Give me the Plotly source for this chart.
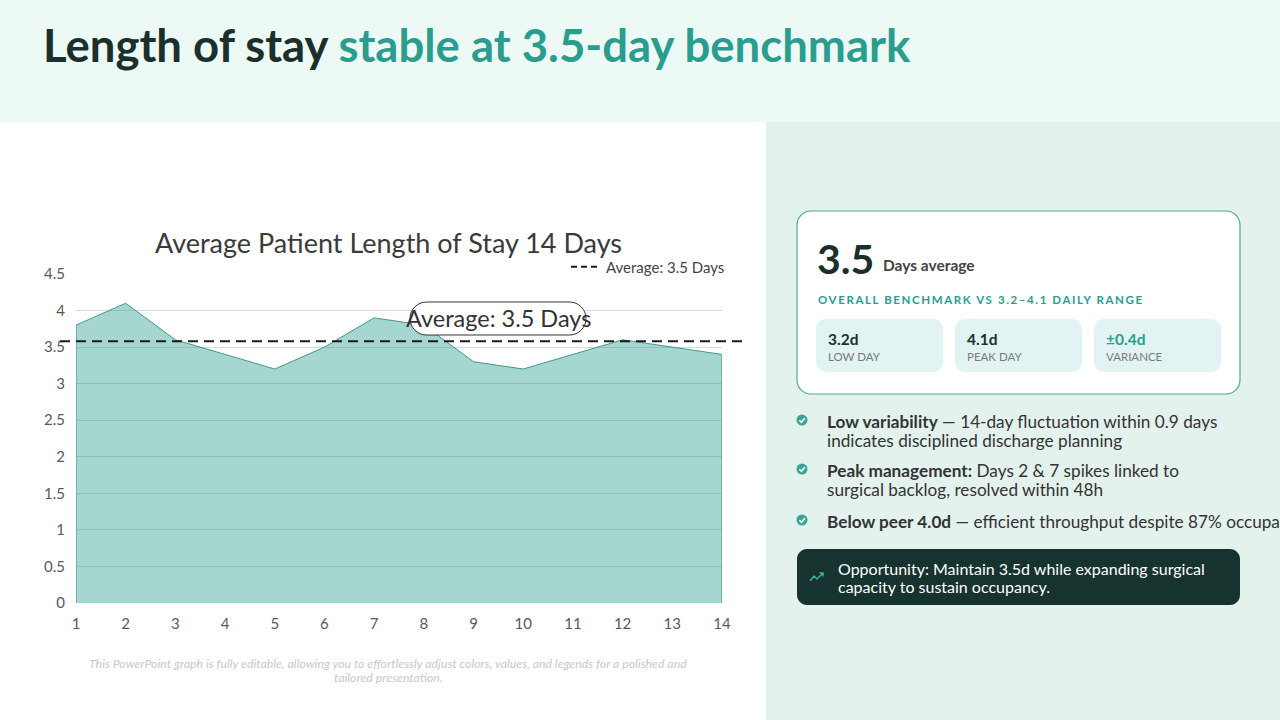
import plotly.graph_objects as go

# ---------------- data ----------------
days = list(range(1, 15))
los_values = [3.8, 4.1, 3.6, 3.4, 3.2, 3.5, 3.9, 3.8, 3.3, 3.2, 3.4, 3.6, 3.5, 3.4]
avg_line_value = 3.58
avg_label = "Average: 3.5 Days"
y_ticks = [0, 0.5, 1, 1.5, 2, 2.5, 3, 3.5, 4, 4.5]
y_tick_labels = ["0", "0.5", "1", "1.5", "2", "2.5", "3", "3.5", "4", "4.5"]
chart_title = "Average Patient Length of Stay 14 Days"
kpi_value = "3.5"
kpi_unit = "Days average"
kpi_sub = "OVERALL BENCHMARK VS 3.2–4.1 DAILY RANGE"
stat_values = ["3.2d", "4.1d", "±0.4d"]
stat_labels = ["LOW DAY", "PEAK DAY", "VARIANCE"]
bullets = [
    ["<b>Low variability</b> — 14-day fluctuation within 0.9 days",
     "indicates disciplined discharge planning"],
    ["<b>Peak management:</b> Days 2 &amp; 7 spikes linked to",
     "surgical backlog, resolved within 48h"],
    ["<b>Below peer 4.0d</b> — efficient throughput despite 87% occupancy"],
]
opportunity = ["Opportunity: Maintain 3.5d while expanding surgical",
               "capacity to sustain occupancy."]
footer = ["This PowerPoint graph is fully editable, allowing you to effortlessly adjust colors, values, and legends for a polished and",
          "tailored presentation."]

# ---------------- layout helpers ----------------
W, H = 1280, 720
L, R, T, B = 76, 722, 274, 603
FONT = "Lato"
DARK = "#1b2f2b"
TEAL = "#2a9d8f"


def px(x):
    return (x - L) / (R - L)


def py(y):
    return (B - y) / (B - T)


def rrect_path(x0, y0, x1, y1, r):
    k = 0.5523 * r
    pts = []
    pts.append(f"M{px(x0 + r)},{py(y0)}")
    pts.append(f"L{px(x1 - r)},{py(y0)}")
    pts.append(f"C{px(x1 - r + k)},{py(y0)} {px(x1)},{py(y0 + r - k)} {px(x1)},{py(y0 + r)}")
    pts.append(f"L{px(x1)},{py(y1 - r)}")
    pts.append(f"C{px(x1)},{py(y1 - r + k)} {px(x1 - r + k)},{py(y1)} {px(x1 - r)},{py(y1)}")
    pts.append(f"L{px(x0 + r)},{py(y1)}")
    pts.append(f"C{px(x0 + r - k)},{py(y1)} {px(x0)},{py(y1 - r + k)} {px(x0)},{py(y1 - r)}")
    pts.append(f"L{px(x0)},{py(y0 + r)}")
    pts.append(f"C{px(x0)},{py(y0 + r - k)} {px(x0 + r - k)},{py(y0)} {px(x0 + r)},{py(y0)}")
    pts.append("Z")
    return " ".join(pts)


shapes = []
annotations = []


def rect(x0, y0, x1, y1, fill, layer="below", line=None):
    shapes.append(dict(type="rect", xref="paper", yref="paper",
                       x0=px(x0), x1=px(x1), y0=py(y1), y1=py(y0),
                       fillcolor=fill, line=line or dict(width=0), layer=layer))


def rrect(x0, y0, x1, y1, r, fill, line=None, layer="above"):
    shapes.append(dict(type="path", xref="paper", yref="paper",
                       path=rrect_path(x0, y0, x1, y1, r),
                       fillcolor=fill, line=line or dict(width=0), layer=layer))


def text(x, y, s, size, color, anchor="left", bold=False, italic=False, family=FONT):
    if bold:
        s = f"<b>{s}</b>"
    if italic:
        s = f"<i>{s}</i>"
    annotations.append(dict(xref="paper", yref="paper", x=px(x), y=py(y),
                            text=s, showarrow=False, xanchor=anchor, yanchor="middle",
                            font=dict(family=family, size=size, color=color)))


# backgrounds
rect(0, 0, W, 122, "#edf9f5")
rect(766, 122, W, H, "#e3f2ec")

# header title
text(41, 44, f"<b>Length of stay <span style='color:{TEAL}'>stable at 3.5-day benchmark</span></b>",
     45.5, DARK)

# chart title
text(388, 242, chart_title, 27, "#3a3a3a", anchor="center")

# average dashed line (extends beyond plot area)
shapes.append(dict(type="line", xref="paper", yref="y", x0=px(60), x1=px(745),
                   y0=avg_line_value, y1=avg_line_value,
                   line=dict(color="#1a1a1a", width=2, dash="10px,6px"), layer="above"))

# average label pill
rrect(410, 302, 586, 335, 16.5, "#ffffff", line=dict(color="#333333", width=1))
text(498, 318, avg_label, 23.5, "#333333", anchor="center")

# footer
text(388, 663, footer[0], 12.3, "#c8c8c8", anchor="center", italic=True)
text(388, 677, footer[1], 12.3, "#c8c8c8", anchor="center", italic=True)

# KPI card
rrect(797, 211, 1240, 394, 14, "#ffffff", line=dict(color="#4da89c", width=1.2))
text(815, 258, kpi_value, 41, DARK, bold=True)
text(881, 265, kpi_unit, 15.5, "#444444", bold=True)
text(816, 299, f"<span style='letter-spacing:1.6px'>{kpi_sub}</span>", 11.5, TEAL, bold=True)
box_x = [816, 955, 1094]
for i, bx in enumerate(box_x):
    rrect(bx, 319, bx + 127, 372, 10, "#e1f4f3")
    text(bx + 10, 339, stat_values[i], 15.5, TEAL if i == 2 else DARK, bold=True)
    text(bx + 10, 356, stat_labels[i], 11.5, "#7a7a7a")

# bullets
bullet_y = [421, 470, 521]
for by, lines in zip(bullet_y, bullets):
    cx, cy, r = 802, by - 1, 5.5
    shapes.append(dict(type="circle", xref="paper", yref="paper",
                       x0=px(cx - r), x1=px(cx + r), y0=py(cy + r), y1=py(cy - r),
                       fillcolor="#3aa596", line=dict(width=0), layer="above"))
    shapes.append(dict(type="path", xref="paper", yref="paper",
                       path=f"M{px(cx - 2.6)},{py(cy + 0.2)} L{px(cx - 0.6)},{py(cy + 2.2)} L{px(cx + 2.8)},{py(cy - 1.8)}",
                       line=dict(color="#ffffff", width=1.6), layer="above"))
    for j, ln in enumerate(lines):
        text(825, by + j * 19.5, ln, 17.2, "#333333")

# opportunity box
rrect(797, 549, 1240, 605, 10, "#16332f")
shapes.append(dict(type="path", xref="paper", yref="paper",
                   path=f"M{px(810)},{py(581)} L{px(814)},{py(576)} L{px(817)},{py(579)} L{px(823)},{py(573)}"
                        f" M{px(819.5)},{py(573)} L{px(823)},{py(573)} L{px(823)},{py(576.5)}",
                   line=dict(color="#3fb3a3", width=1.4), layer="above"))
text(836, 568, opportunity[0], 16, "#ffffff")
text(836, 586, opportunity[1], 16, "#ffffff")

# ---------------- figure ----------------
fig = go.Figure()
area_x = [days[0]] + days + [days[-1]]
area_y = [0] + los_values + [0]
fig.add_trace(go.Scatter(x=area_x, y=area_y, mode="lines", fill="toself",
                         fillcolor="rgba(42,157,143,0.42)",
                         line=dict(color="#3d9a8f", width=1),
                         showlegend=False, hoverinfo="skip"))
fig.add_trace(go.Scatter(x=[None], y=[None], mode="lines", name=avg_label,
                         line=dict(color="#1a1a1a", width=2, dash="6px,4px"),
                         showlegend=True))

fig.update_layout(
    width=W, height=H,
    margin=dict(l=L, r=W - R, t=T, b=H - B, pad=0),
    paper_bgcolor="#ffffff", plot_bgcolor="rgba(0,0,0,0)",
    font=dict(family=FONT, color="#333333"),
    shapes=shapes, annotations=annotations,
    showlegend=True,
    legend=dict(x=px(730), y=py(267), xanchor="right", yanchor="middle",
                bgcolor="rgba(0,0,0,0)", itemwidth=30,
                font=dict(family=FONT, size=15, color="#444444")),
    xaxis=dict(range=[1, 14], tickmode="array", tickvals=days,
               ticktext=[str(d) for d in days], showgrid=False, zeroline=False,
               showline=False, ticks="", tickfont=dict(family=FONT, size=15, color="#595959"),
               ticklabelstandoff=10, fixedrange=True),
    yaxis=dict(range=[0, 4.5], tickmode="array", tickvals=y_ticks, ticktext=y_tick_labels,
               showgrid=True, gridcolor="#d9d9d9", gridwidth=1, zeroline=False,
               showline=False, ticks="", tickfont=dict(family=FONT, size=15, color="#595959"),
               ticklabelstandoff=10, fixedrange=True),
)

fig.write_html("out.html", config={"displayModeBar": False},
               post_script="document.body.style.margin='0px';document.body.style.overflow='hidden';")
